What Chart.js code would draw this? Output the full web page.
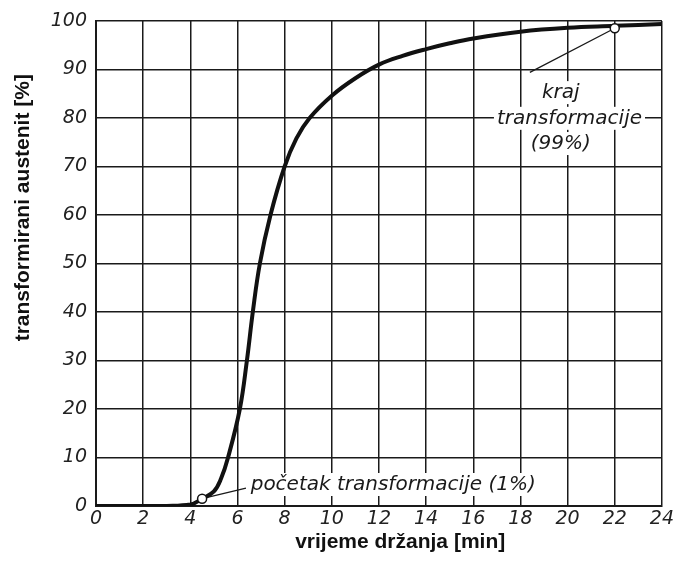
<!DOCTYPE html>
<html>
<head>
<meta charset="utf-8">
<script src="https://cdn.jsdelivr.net/npm/chart.js@4.4.1/dist/chart.umd.min.js"></script>
<style>
html,body{margin:0;padding:0;background:#fff;}
#wrap{width:676px;height:562px;position:relative;}
</style>
</head>
<body>
<div id="wrap"><canvas id="c" width="676" height="562"></canvas></div>
<script>
// ---- data ----
const timeMin     = [0, 1, 2, 3, 4, 4.5, 5, 5.3, 5.6, 6.1, 6.4, 6.65, 6.95, 7.4, 8.0, 8.5, 9.06, 10, 11, 12, 13, 14, 15, 16, 18, 20, 22, 24];
const transformed = [0, 0, 0, 0, 0.3, 1.5, 3, 5.6, 10, 20, 30, 40, 50, 60, 70, 75.8, 80, 84.6, 88.2, 91.0, 92.8, 94.2, 95.4, 96.4, 97.8, 98.6, 99.0, 99.4];
const markerTime  = [4.5, 22];
const markerValue = [1.5, 98.5];
const xTickValues = [0, 2, 4, 6, 8, 10, 12, 14, 16, 18, 20, 22, 24];
const yTickValues = [0, 10, 20, 30, 40, 50, 60, 70, 80, 90, 100];
const xTitle = 'vrijeme držanja [min]';
const yTitle = 'transformirani austenit [%]';
const startLabel = 'početak transformacije (1%)';
const endLabel = ['kraj', 'transformacije', '(99%)'];

// annotation anchors (data units)
const startText = {x: 6.56, y: 3.3};
const startLeaderEnd = {x: 6.36, y: 3.7};
const endText = [{x: 19.71, y: 84.1}, {x: 20.08, y: 78.8}, {x: 19.71, y: 73.6}];
const endLeaderEnd = {x: 18.4, y: 89.4};
// axis title anchors (data units along the axis)
const xTitleAt = 12.9;
const yTitleAt = 61.5;

const labelFont = 'italic 20px "DejaVu Sans"';
const titleFont = 'bold 21px "Liberation Sans", Arial';
const ink = '#1a1a1a';

const annotPlugin = {
  id: 'annot',
  beforeDatasetsDraw(chart) {
    const {ctx, scales: {x, y}} = chart;
    ctx.save();
    ctx.font = labelFont;
    function boxText(t, px, py, align) {
      const w = ctx.measureText(t).width;
      const left = align === 'center' ? px - w / 2 : px;
      ctx.fillStyle = '#fff';
      ctx.fillRect(left - 3, py - 17, w + 6, 23);
    }
    function drawText(t, px, py, align) {
      ctx.fillStyle = ink;
      ctx.textAlign = align;
      ctx.textBaseline = 'alphabetic';
      ctx.fillText(t, px, py);
    }
    const sx = x.getPixelForValue(startText.x), sy = y.getPixelForValue(startText.y);
    boxText(startLabel, sx, sy, 'left');
    endLabel.forEach((t, i) => boxText(t, x.getPixelForValue(endText[i].x), y.getPixelForValue(endText[i].y), 'center'));
    drawText(startLabel, sx, sy, 'left');
    endLabel.forEach((t, i) => drawText(t, x.getPixelForValue(endText[i].x), y.getPixelForValue(endText[i].y), 'center'));
    ctx.strokeStyle = ink;
    ctx.lineWidth = 1.3;
    ctx.beginPath();
    ctx.moveTo(x.getPixelForValue(markerTime[0]), y.getPixelForValue(markerValue[0]));
    ctx.lineTo(x.getPixelForValue(startLeaderEnd.x), y.getPixelForValue(startLeaderEnd.y));
    ctx.moveTo(x.getPixelForValue(markerTime[1]), y.getPixelForValue(markerValue[1]));
    ctx.lineTo(x.getPixelForValue(endLeaderEnd.x), y.getPixelForValue(endLeaderEnd.y));
    ctx.stroke();
    // axis titles
    ctx.font = titleFont;
    ctx.fillStyle = '#111';
    ctx.textAlign = 'center';
    ctx.textBaseline = 'alphabetic';
    ctx.fillText(xTitle, x.getPixelForValue(xTitleAt), 548);
    ctx.translate(29, y.getPixelForValue(yTitleAt));
    ctx.rotate(-Math.PI / 2);
    ctx.fillText(yTitle, 0, 0);
    ctx.restore();
  }
};

new Chart(document.getElementById('c'), {
  type: 'scatter',
  data: {
    datasets: [
      {
        data: timeMin.map((t, i) => ({x: t, y: transformed[i]})),
        showLine: true,
        borderColor: '#111',
        borderWidth: 4,
        pointRadius: 0,
        tension: 0.4,
        order: 2
      },
      {
        data: markerTime.map((t, i) => ({x: t, y: markerValue[i]})),
        showLine: false,
        pointRadius: 4.5,
        pointBackgroundColor: '#fff',
        pointBorderColor: '#111',
        pointBorderWidth: 1.5,
        order: 1
      }
    ]
  },
  plugins: [annotPlugin],
  options: {
    responsive: false,
    animation: false,
    devicePixelRatio: 1,
    layout: {padding: {left: 0, right: 11, top: 21, bottom: 0}},
    plugins: {legend: {display: false}, tooltip: {enabled: false}},
    scales: {
      x: {
        type: 'linear', min: 0, max: 24,
        afterBuildTicks: s => { s.ticks = xTickValues.map(v => ({value: v})); },
        afterFit: s => { s.height = 56; },
        grid: {color: ink, lineWidth: 1.5, drawTicks: false},
        border: {color: ink, width: 2},
        ticks: {color: '#222', font: {family: 'DejaVu Sans', style: 'italic', size: 19}, padding: 2, maxRotation: 0},
        title: {display: false}
      },
      y: {
        type: 'linear', min: 0, max: 100,
        afterBuildTicks: s => { s.ticks = yTickValues.map(v => ({value: v})); },
        afterFit: s => { s.width = 96; },
        grid: {color: ink, lineWidth: 1.5, drawTicks: false},
        border: {color: ink, width: 2},
        ticks: {color: '#222', font: {family: 'DejaVu Sans', style: 'italic', size: 19}, padding: 9},
        title: {display: false}
      }
    }
  }
});
</script>
</body>
</html>
